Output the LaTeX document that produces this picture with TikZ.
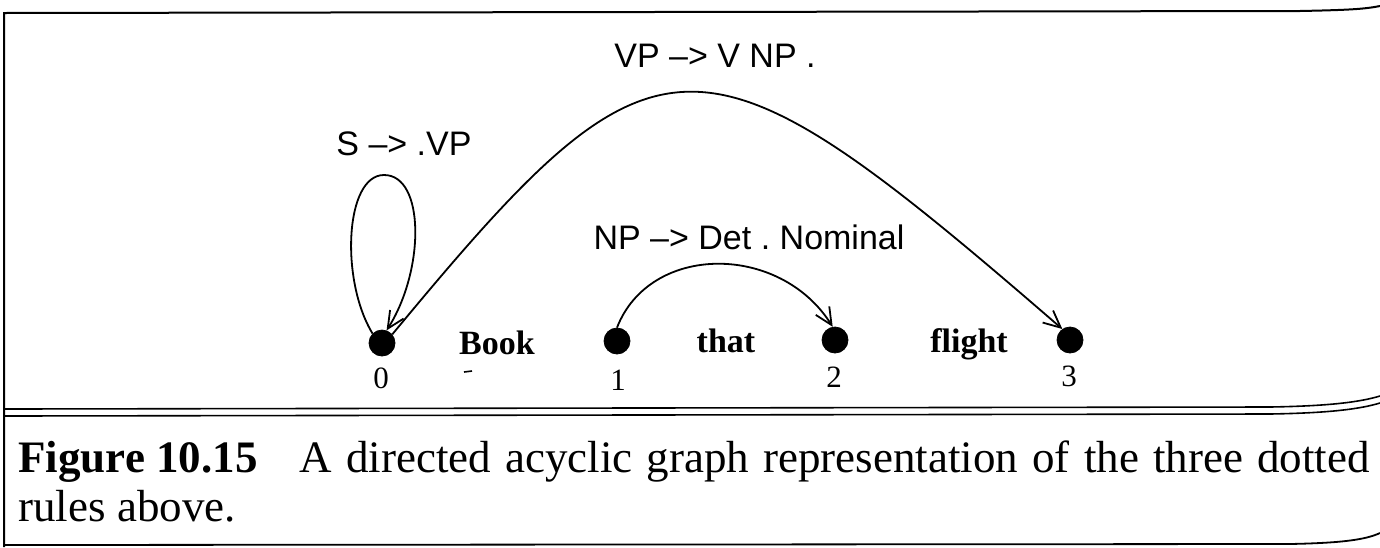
\documentclass[tikz,border=0pt]{standalone}
\usepackage{fontspec}
\setmainfont{Liberation Serif}
\newfontfamily\labelfont{Liberation Sans}
\usetikzlibrary{arrows.meta}
\frenchspacing
\tikzset{
  dot/.style={circle,fill=black,draw=black,minimum size=13pt,inner sep=0pt},
  rulelabel/.style={font=\labelfont\fontsize{17}{20}\selectfont,inner sep=0pt,anchor=base},
  word/.style={font=\bfseries\fontsize{17}{20}\selectfont,inner sep=0pt,anchor=base},
  num/.style={font=\fontsize{15.5}{18}\selectfont,inner sep=0pt},
  caption/.style={font=\fontsize{22.5}{26}\selectfont,inner sep=0pt},
  edge/.style={line width=0.9pt,-{Straight Barb[length=8.5pt,width=8pt,line width=0.9pt]}},
  frame/.style={line width=1pt}
}
\begin{document}
\begin{tikzpicture}[x=0.5pt,y=-0.5pt]
\useasboundingbox (0,0) rectangle (1380,547);
% frame
\draw[frame] (4,547) -- (4,13) -- (1300,11) .. controls (1350,10) and (1365,9) .. (1380,6);
\draw[line width=0.8pt] (4,409) -- (1270,407) .. controls (1330,406) and (1360,402) .. (1380,396);
\draw[line width=0.8pt] (4,416) -- (1270,414) .. controls (1330,413) and (1360,409) .. (1380,403);
\draw[line width=0.9pt] (4,545) -- (1290,544) .. controls (1340,543) and (1365,540) .. (1380,533);
% nodes
\node[dot] (n0) at (382,343) {};
\node[dot] (n1) at (617,341) {};
\node[dot] (n2) at (835,340) {};
\node[dot] (n3) at (1070,340) {};
\node[num] (l0) at (381,378) {0};
\node[num] (l1) at (618,380) {1};
\node[num] (l2) at (834,377) {2};
\node[num] (l3) at (1069,376) {3};
\node[word] (wbook) at (497,354) {Book};
\node[word] (wthat) at (726,352) {that};
\node[word] (wflight) at (969,352) {flight};
\draw[line width=0.8pt] (464,372) -- (472,371);
% rule labels
\node[rulelabel] (rvp) at (715,67) {VP –> V NP .};
\node[rulelabel] (rs) at (404,155) {S –> .VP};
\node[rulelabel] (rnp) at (749,249) {NP –> Det . Nominal};
% edges
\coordinate (looptop) at (384,175);
\draw[edge] (n0.135) .. controls (340,280) and (345,175) .. (looptop) .. controls (425,175) and (425,270) .. (n0.70);
\draw[edge] (n0.40) .. controls (659,12) and (696,12) .. (n3.125);
\draw[edge] (n1.90) .. controls (650,243) and (780,243) .. (n2.100);
% caption
\node[caption,anchor=base west] (cfig) at (18,472) {\bfseries Figure 10.15};
\node[caption,anchor=base east] (ctext) at (1370,472) {\hbox to 535pt{A directed acyclic graph representation of the three dotted}};
\node[caption,anchor=base west] (ctext2) at (18,521) {rules above.};
\end{tikzpicture}
\end{document}
